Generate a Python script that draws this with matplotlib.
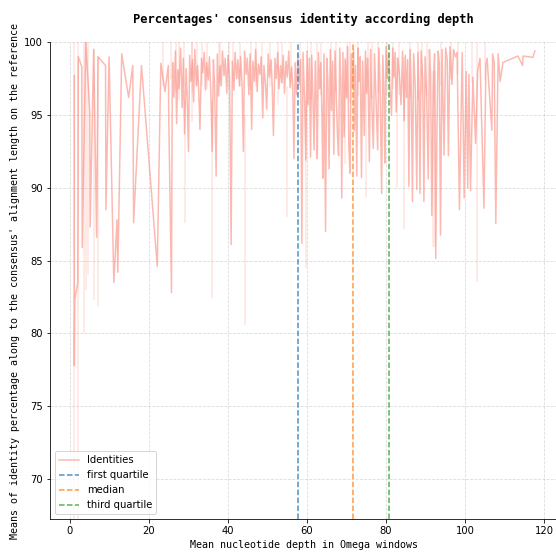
import matplotlib
matplotlib.use("Agg")
import matplotlib.pyplot as plt

# ---- data ----
depth_early = [1.1, 1.1, 1.2, 2.0, 2.1, 3.0, 3.1, 4.0, 5.0, 5.1, 6.0, 6.75, 7.1, 9.0, 9.1, 9.9,
               11.1, 11.9, 12.1, 13.1, 14.85, 15.9, 16.1, 18.1, 22.1, 23.0, 24.05, 24.9, 25.0,
               25.7, 25.9]
ident_early = [97.7, 77.8, 82.3, 83.5, 99.0, 98.3, 85.9, 100.0, 95.3, 87.3, 99.5, 86.6, 99.0, 98.4,
               88.5, 99.0, 83.5, 87.8, 84.2, 99.2, 96.2, 98.4, 87.6, 98.4, 84.6, 98.55, 96.6, 98.4,
               95.0, 82.8, 97.5]

depth_dense = [
    26.0, 26.3, 26.7, 27.0, 27.3, 27.6, 28.0, 28.4, 28.7, 29.0,
    29.4, 29.7, 30.0, 30.3, 30.6, 31.0, 31.3, 31.6, 32.0, 32.3,
    32.6, 32.9, 33.3, 33.6, 34.0, 34.3, 34.6, 35.0, 35.3, 35.7,
    36.0, 36.3, 36.6, 37.0, 37.3, 37.6, 38.0, 38.3, 38.6, 39.0,
    39.3, 39.7, 40.0, 40.4, 40.8, 41.1, 41.5, 41.8, 42.2, 42.5,
    42.9, 43.2, 43.6, 43.9, 44.2, 44.6, 44.9, 45.3, 45.6, 46.0,
    46.3, 46.7, 47.0, 47.4, 47.7, 48.1, 48.4, 48.8, 49.1, 49.5,
    49.8, 50.2, 50.5, 50.9, 51.2, 51.5, 51.9, 52.2, 52.6, 52.9,
    53.3, 53.6, 54.0, 54.3, 54.7, 55.0, 55.4, 55.7, 56.1, 56.4,
    56.7, 57.0, 57.4, 57.7, 58.0, 58.4, 58.7, 59.0, 59.4, 59.7,
    60.0, 60.3, 60.6, 60.9, 61.2, 61.5, 61.8, 62.1, 62.4, 62.6,
    62.9, 63.2, 63.5, 63.8, 64.0, 64.3, 64.7, 65.0, 65.3, 65.6,
    65.9, 66.2, 66.5, 66.8, 67.1, 67.4, 67.7, 68.0, 68.3, 68.6,
    68.8, 69.1, 69.4, 69.7, 70.0, 70.3, 70.6, 70.9, 71.2, 71.5,
    71.8, 72.0, 72.3, 72.6, 72.9, 73.2, 73.5, 73.8, 74.1, 74.5,
    74.8, 75.1, 75.4, 75.8, 76.1, 76.4, 76.8, 77.1, 77.4, 77.9,
    78.2, 78.5, 78.9, 79.2, 79.5, 79.7, 80.0, 80.3, 80.7, 81.0,
    81.4, 81.7, 82.0, 82.3, 82.6, 83.0, 83.4, 83.8, 84.2, 84.6,
    84.9, 85.2, 85.5, 85.8, 86.1, 86.4, 86.7, 87.0, 87.4, 87.8,
    88.1, 88.4, 88.6, 88.9, 89.3, 89.6, 89.9, 90.3, 90.7, 91.0,
    91.3, 91.6, 92.0, 92.3, 92.6, 92.9, 93.2, 93.5, 93.8, 94.2,
    94.7, 95.1, 95.5, 95.8, 96.2, 96.7, 97.1, 97.6, 98.0, 98.6,
    98.9, 99.3, 99.8, 100.3, 100.7, 101.0, 101.4, 102.0, 102.7, 103.2,
    103.8, 104.8, 105.3, 105.6, 106.8, 107.0, 107.4, 107.8, 108.4, 108.9,
    109.6, 113.4, 114.6, 114.7, 117.2, 117.7]
ident_dense = [
    98.6, 96.2, 99.4, 94.4, 98.1, 96.8, 99.6, 95.5, 98.9, 93.7,
    98.2, 96.0, 92.5, 99.1, 97.3, 98.8, 95.9, 99.5, 97.0, 98.4,
    96.6, 94.0, 98.9, 97.9, 99.3, 96.7, 98.6, 97.4, 99.0, 96.2,
    92.5, 98.8, 97.2, 90.8, 99.2, 96.3, 98.4, 97.0, 99.4, 97.7,
    98.9, 96.5, 99.1, 97.6, 86.1, 98.7, 96.7, 99.3, 97.5, 98.8,
    97.0, 99.0, 96.8, 92.5, 99.4, 97.8, 98.9, 96.4, 99.2, 94.0,
    98.7, 97.3, 99.5, 96.6, 98.5, 97.8, 99.0, 94.8, 98.4, 97.1,
    95.4, 99.2, 97.6, 98.8, 96.9, 93.6, 98.9, 97.5, 99.3, 96.8,
    98.4, 97.2, 99.1, 96.5, 98.7, 97.6, 99.4, 96.9, 98.3, 97.0,
    92.0, 98.6, 96.4, 99.2, 97.1, 98.8, 86.2, 99.3, 96.0, 91.9,
    99.4, 95.7, 98.9, 92.1, 99.1, 96.3, 92.6, 98.7, 95.2, 92.0,
    99.3, 96.8, 98.6, 94.8, 90.65, 99.2, 87.0, 98.9, 97.4, 91.3,
    99.5, 95.3, 98.7, 92.3, 99.4, 96.6, 93.7, 92.2, 99.6, 97.0,
    89.3, 99.3, 93.5, 98.8, 96.2, 99.7, 92.8, 91.0, 99.2, 96.9,
    99.5, 93.9, 98.4, 90.8, 99.6, 97.3, 99.0, 90.7, 98.7, 93.6,
    99.4, 96.5, 98.9, 91.8, 99.5, 95.9, 92.7, 99.2, 96.8, 92.6,
    99.6, 97.2, 89.6, 99.1, 96.4, 91.7, 99.7, 97.5, 99.2, 96.9,
    95.0, 99.6, 97.6, 99.3, 95.2, 98.9, 97.8, 95.7, 99.4, 94.6,
    99.1, 96.2, 98.8, 90.1, 99.5, 96.8, 89.05, 99.2, 97.0, 89.9,
    99.3, 96.1, 89.6, 99.4, 97.5, 89.05, 99.0, 96.3, 90.6, 99.5,
    97.8, 88.1, 97.0, 99.2, 85.15, 93.85, 99.4, 98.6, 86.75, 99.5,
    92.25, 99.6, 98.8, 92.2, 99.7, 97.1, 99.5, 99.0, 99.3, 88.5,
    93.3, 99.3, 89.3, 98.0, 90.0, 97.8, 89.8, 97.6, 93.05, 98.0,
    98.9, 88.6, 98.5, 98.9, 93.95, 99.2, 98.6, 87.55, 99.2, 97.3,
    98.6, 99.05, 98.4, 99.05, 98.96, 99.4]

# confidence band spikes (depth, low, high)
band_depth = [1.0, 2.0, 3.6, 4.1, 4.6, 6.1, 7.0, 23.5, 25.5, 26.8, 27.5, 28.9, 29.1, 30.8,
              31.0, 32.2, 33.5, 34.8, 36.0, 37.8, 38.0, 40.2, 41.3, 43.0, 44.2, 45.8,
              47.0, 48.5, 50.6, 52.6, 53.8, 54.9, 56.0, 58.2, 59.7, 61.0, 62.5, 63.6,
              66.0, 67.3, 69.6, 70.2, 71.0, 73.0, 74.9, 75.5, 76.5, 78.0, 80.2, 81.8,
              82.9, 83.2, 84.6, 86.0, 88.0, 89.0, 90.5, 92.0, 92.4, 94.0, 96.5, 98.2,
              101.8, 103.0, 105.0]
band_low = [67.0, 67.0, 80.0, 83.0, 84.0, 82.3, 81.8, 97.0, 97.5, 96.5, 96.0, 97.0, 87.6, 96.5,
            94.5, 97.0, 97.0, 96.8, 82.4, 97.2, 97.0, 96.8, 97.3, 96.9, 80.6, 96.7,
            97.0, 97.1, 96.9, 95.7, 97.2, 88.0, 96.8, 96.5, 84.5, 96.0, 96.0, 96.4,
            96.2, 96.6, 91.6, 96.0, 95.8, 96.3, 89.4, 97.0, 96.1, 96.5, 96.3, 96.8,
            90.0, 96.4, 87.2, 96.2, 96.0, 96.5, 96.3, 85.9, 85.9, 97.0, 97.5, 97.8,
            97.2, 83.5, 97.4]
band_high = [100.0, 100.0, 100.0, 100.0, 100.0, 99.5, 99.0, 100.0, 100.0, 100.0, 100.0, 100.0, 96.0, 100.0,
             100.0, 100.0, 100.0, 100.0, 96.0, 100.0, 100.0, 100.0, 100.0, 100.0, 95.0, 100.0,
             100.0, 100.0, 100.0, 100.0, 100.0, 97.0, 100.0, 100.0, 96.0, 100.0, 100.0, 100.0,
             100.0, 100.0, 99.0, 100.0, 100.0, 100.0, 99.0, 100.0, 100.0, 100.0, 100.0, 100.0,
             99.0, 100.0, 99.0, 100.0, 100.0, 100.0, 100.0, 98.0, 98.0, 100.0, 100.0, 100.0,
             100.0, 100.0, 100.0]

first_quartile = 57.8
median = 71.6
third_quartile = 80.7

title = "Percentages' consensus identity according depth"
xlabel = "Mean nucleotide depth in Omega windows"
ylabel = "Means of identity percentage along to the consensus' alignment length on the reference"

# ---- plot ----
fig = plt.figure(figsize=(556 / 72, 552 / 72), dpi=72)
ax = fig.add_axes([50 / 556, 33 / 552, 507.4 / 556, 476.8 / 552])

ax.vlines(band_depth, band_low, band_high, color="#FA8072", alpha=0.22, linewidth=1.5)
ax.plot(depth_early + depth_dense, ident_early + ident_dense, color="#FA8072", alpha=0.55,
        linewidth=1.5, label="Identities")
ax.axvline(first_quartile, color="tab:blue", alpha=0.8, linestyle="--", linewidth=1.5,
           label="first quartile")
ax.axvline(median, color="tab:orange", alpha=0.8, linestyle="--", linewidth=1.5, label="median")
ax.axvline(third_quartile, color="tab:green", alpha=0.8, linestyle="--", linewidth=1.5,
           label="third quartile")

ax.set_xlim(-5.06, 123.4)
ax.set_ylim(67.25, 100)
ax.set_xticks([0, 20, 40, 60, 80, 100, 120])
ax.set_yticks([70, 75, 80, 85, 90, 95, 100])
ax.grid(True, linestyle="--", alpha=0.45)
ax.spines["top"].set_visible(False)
ax.spines["right"].set_visible(False)

ax.set_title(title, family="DejaVu Sans Mono", fontweight="bold", fontsize=12, pad=19)
ax.set_xlabel(xlabel, family="DejaVu Sans Mono", fontsize=10)
ax.set_ylabel(ylabel, family="DejaVu Sans Mono", fontsize=10)
ax.legend(loc="lower left")

fig.savefig("out.png", dpi=72)
